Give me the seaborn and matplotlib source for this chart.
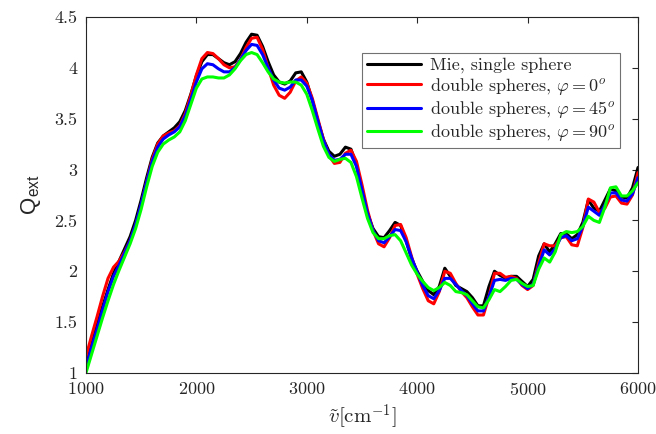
import numpy as np
import pandas as pd
import matplotlib
matplotlib.use("Agg")
import matplotlib.pyplot as plt
import seaborn as sns

# wavenumber grid (cm^-1), values every 50 cm^-1
wavenumber = list(range(1000, 6001, 50))

q_mie = [1.12, 1.30, 1.47, 1.65, 1.82, 1.98, 2.10, 2.22, 2.34, 2.50,
         2.70, 2.92, 3.12, 3.26, 3.33, 3.37, 3.41, 3.47, 3.58, 3.74,
         3.92, 4.06, 4.13, 4.13, 4.09, 4.05, 4.03, 4.06, 4.14, 4.25,
         4.33, 4.32, 4.21, 4.06, 3.93, 3.86, 3.84, 3.87, 3.95, 3.96,
         3.86, 3.68, 3.48, 3.30, 3.18, 3.13, 3.15, 3.22, 3.20, 3.05,
         2.80, 2.57, 2.42, 2.34, 2.33, 2.40, 2.48, 2.45, 2.30, 2.12,
         2.00, 1.90, 1.81, 1.77, 1.85, 2.03, 1.95, 1.86, 1.83, 1.80,
         1.74, 1.66, 1.66, 1.85, 2.00, 1.96, 1.93, 1.95, 1.95, 1.90,
         1.85, 1.92, 2.15, 2.27, 2.19, 2.27, 2.37, 2.37, 2.32, 2.36,
         2.48, 2.70, 2.62, 2.59, 2.70, 2.81, 2.79, 2.73, 2.72, 2.82,
         3.02]

q_phi0 = [1.16, 1.36, 1.55, 1.75, 1.93, 2.04, 2.10, 2.19, 2.30, 2.45,
          2.65, 2.88, 3.10, 3.25, 3.33, 3.36, 3.38, 3.43, 3.55, 3.73,
          3.93, 4.09, 4.15, 4.14, 4.09, 4.03, 4.00, 4.01, 4.08, 4.20,
          4.29, 4.30, 4.18, 4.00, 3.83, 3.73, 3.70, 3.76, 3.87, 3.91,
          3.85, 3.70, 3.50, 3.30, 3.14, 3.06, 3.07, 3.16, 3.19, 3.08,
          2.85, 2.60, 2.40, 2.27, 2.24, 2.33, 2.45, 2.46, 2.33, 2.14,
          1.97, 1.83, 1.71, 1.68, 1.80, 2.00, 1.98, 1.88, 1.80, 1.74,
          1.65, 1.57, 1.57, 1.75, 1.98, 1.98, 1.94, 1.95, 1.93, 1.86,
          1.82, 1.86, 2.08, 2.27, 2.25, 2.25, 2.33, 2.34, 2.26, 2.25,
          2.43, 2.71, 2.68, 2.58, 2.62, 2.73, 2.74, 2.67, 2.66, 2.75,
          2.97]

q_phi45 = [1.05, 1.25, 1.43, 1.62, 1.80, 1.95, 2.06, 2.18, 2.30, 2.46,
           2.66, 2.88, 3.08, 3.22, 3.30, 3.34, 3.37, 3.42, 3.53, 3.69,
           3.86, 3.99, 4.04, 4.03, 3.99, 3.96, 3.96, 4.00, 4.08, 4.17,
           4.23, 4.22, 4.13, 4.00, 3.88, 3.80, 3.78, 3.81, 3.88, 3.88,
           3.82, 3.68, 3.48, 3.29, 3.15, 3.09, 3.10, 3.15, 3.15, 3.03,
           2.80, 2.57, 2.40, 2.30, 2.28, 2.34, 2.41, 2.40, 2.29, 2.13,
           1.99, 1.86, 1.76, 1.73, 1.81, 1.93, 1.93, 1.87, 1.81, 1.76,
           1.68, 1.61, 1.61, 1.75, 1.91, 1.92, 1.91, 1.93, 1.92, 1.87,
           1.83, 1.87, 2.05, 2.21, 2.16, 2.22, 2.33, 2.35, 2.30, 2.32,
           2.44, 2.63, 2.59, 2.55, 2.65, 2.77, 2.77, 2.70, 2.69, 2.76,
           2.92]

q_phi90 = [1.00, 1.18, 1.36, 1.54, 1.71, 1.87, 2.01, 2.14, 2.27, 2.42,
           2.61, 2.83, 3.03, 3.17, 3.25, 3.29, 3.32, 3.37, 3.48, 3.64,
           3.80, 3.89, 3.91, 3.91, 3.90, 3.90, 3.93, 3.99, 4.07, 4.13,
           4.15, 4.13, 4.05, 3.96, 3.89, 3.86, 3.85, 3.86, 3.86, 3.83,
           3.74, 3.58, 3.40, 3.23, 3.12, 3.08, 3.10, 3.11, 3.07, 2.93,
           2.72, 2.52, 2.38, 2.32, 2.32, 2.35, 2.36, 2.30, 2.18, 2.06,
           1.97, 1.90, 1.84, 1.81, 1.84, 1.89, 1.86, 1.80, 1.79, 1.77,
           1.71, 1.65, 1.64, 1.72, 1.82, 1.80, 1.85, 1.91, 1.92, 1.88,
           1.85, 1.86, 2.02, 2.13, 2.09, 2.19, 2.36, 2.39, 2.38, 2.39,
           2.44, 2.54, 2.50, 2.48, 2.63, 2.82, 2.83, 2.74, 2.74, 2.79,
           2.87]

labels = ["Mie, single sphere",
          r"double spheres, $\varphi = 0^o$",
          r"double spheres, $\varphi = 45^o$",
          r"double spheres, $\varphi = 90^o$"]
colors = ["black", "red", "blue", "#00ff00"]

df = pd.concat([
    pd.DataFrame({"wn": wavenumber, "q": vals, "case": lab})
    for vals, lab in zip([q_mie, q_phi0, q_phi45, q_phi90], labels)
], ignore_index=True)

sns.set_theme(style="white")
plt.rcParams["font.family"] = "serif"
plt.rcParams["font.serif"] = ["cmr10", "DejaVu Serif"]
plt.rcParams["mathtext.fontset"] = "cm"
plt.rcParams["axes.formatter.use_mathtext"] = True

fig = plt.figure(figsize=(6.56, 4.34), dpi=100)
ax = fig.add_axes([0.131, 0.1406, 0.8416, 0.8204])

sns.lineplot(data=df, x="wn", y="q", hue="case", palette=colors,
             estimator=None, sort=False, linewidth=2.2, ax=ax)

ax.set_xlim(1000, 6000)
ax.set_ylim(1, 4.5)
ax.set_xticks([1000, 2000, 3000, 4000, 5000, 6000])
ax.set_yticks([1, 1.5, 2, 2.5, 3, 3.5, 4, 4.5])
ax.set_yticklabels(["1", "1.5", "2", "2.5", "3", "3.5", "4", "4.5"])
ax.tick_params(direction="in", top=True, right=True, length=4, width=0.8,
               labelsize=13, colors="0.15", pad=6)
for s in ax.spines.values():
    s.set_color("0.15")
    s.set_linewidth(0.8)

ax.set_xlabel(r"$\tilde{v}[\mathrm{cm}^{-1}]$", fontsize=15, color="0.15",
              labelpad=3)
ax.set_ylabel(r"Q$_\mathregular{ext}$", fontsize=16, color="0.15",
              fontfamily="Liberation Sans", labelpad=8)

leg = ax.legend(loc="upper right", bbox_to_anchor=(0.967, 0.899),
                borderaxespad=0, fontsize=13, frameon=True, fancybox=False,
                handlelength=3.0, borderpad=0.25, labelspacing=0.12,
                handletextpad=0.5)
leg.get_frame().set_edgecolor("0.3")
leg.get_frame().set_linewidth(0.8)
leg.set_title(None)

fig.savefig("out.png", dpi=100)
